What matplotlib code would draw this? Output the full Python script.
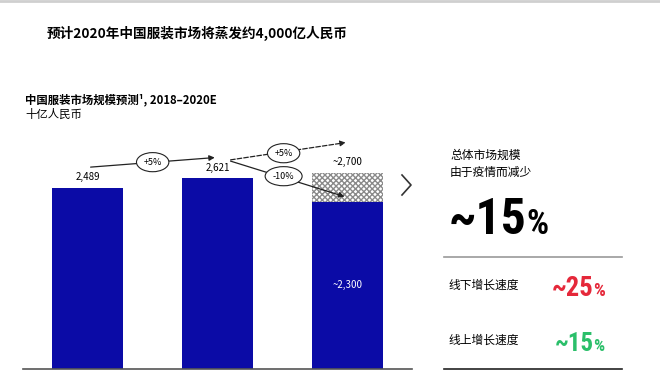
import matplotlib
matplotlib.use('Agg')
import matplotlib.pyplot as plt

plt.rcParams['font.family'] = ['Noto Sans CJK SC', 'DejaVu Sans']

# market size, bn RMB
years = ['2018', '2019', '2020E']
market = [2489, 2621, 2300]
market_no_covid = 2700
bar_labels = ['2,489', '2,621', '~2,300']
growth_hist = '+5%'
growth_plan = '+5%'
growth_covid = '-10%'
total_drop = '~15'
offline_growth = '~25'
online_growth = '~15'

blue = '#0B0BA6'
red = '#E5283A'
green = '#2BBF6A'

W, H = 660, 374
fig = plt.figure(figsize=(W / 100, H / 100), dpi=100)


def fx(px):
    return px / W


def fy(py):
    return 1 - py / H


# top thin border
fig.add_artist(plt.Line2D([0, 1], [fy(1), fy(1)], color='#cfcfcf', lw=2))

fig.text(fx(47), fy(33), '预计2020年中国服装市场将蒸发约4,000亿人民币',
         fontsize=9.8, fontweight='bold', va='center', ha='left')
fig.text(fx(25), fy(100), '中国服装市场规模预测¹, 2018–2020E',
         fontsize=8.2, fontweight='bold', va='center', ha='left')
fig.text(fx(25), fy(114), '十亿人民币', fontsize=8.2, va='center', ha='left')

ax = fig.add_axes([fx(23), fy(369), fx(412) - fx(23), (369 - 100) / H])
x = list(range(len(years)))
ax.bar(x, market, width=0.55, color=blue, zorder=2)
ax.bar(x[2], market_no_covid - market[2], bottom=market[2], width=0.55,
       color='white', edgecolor='#8a8a8a', hatch='xxxxxx', lw=0, zorder=1)
ax.set_xlim(-0.5, 2.5)
ax.set_ylim(0, 3700)
for s in ['top', 'right', 'left']:
    ax.spines[s].set_visible(False)
ax.spines['bottom'].set_color('#555555')
ax.spines['bottom'].set_linewidth(1.2)
ax.set_xticks([])
ax.set_yticks([])

for i in range(2):
    ax.text(x[i], market[i] + 80, bar_labels[i], ha='center', va='bottom', fontsize=7)
ax.text(x[2], market_no_covid + 80, '~2,700', ha='center', va='bottom', fontsize=7)
ax.text(x[2], 1150, bar_labels[2], ha='center', va='center', fontsize=7, color='white')

# growth arrows
arrow = dict(arrowstyle='-|>', color='#222222', lw=0.9, mutation_scale=8)
ax.annotate('', xy=(x[1], market[1] + 290), xytext=(x[0], market[0] + 285),
            arrowprops=arrow, annotation_clip=False)
ax.annotate('', xy=(x[2] + 0.01, market_no_covid + 420),
            xytext=(x[1] + 0.08, market[1] + 250),
            arrowprops=dict(arrow, linestyle='--'), annotation_clip=False)
ax.annotate('', xy=(x[2], market[2] + 60), xytext=(x[1] + 0.08, market[1] + 250),
            arrowprops=arrow, annotation_clip=False)

ell = dict(boxstyle='ellipse,pad=0.25', fc='white', ec='#222222', lw=0.8)
ax.text(0.5, 2845, growth_hist, ha='center', va='center', fontsize=6.5, bbox=ell)
ax.text(1.51, 2968, growth_plan, ha='center', va='center', fontsize=6.5, bbox=ell)
ax.text(1.51, 2652, growth_covid, ha='center', va='center', fontsize=6.5, bbox=ell)

# chevron
fig.add_artist(plt.Line2D([fx(402), fx(411), fx(402)], [fy(175), fy(185), fy(195)],
                          color='#333333', lw=1.2))

# right panel
fig.text(fx(450), fy(155), '总体市场规模', fontsize=8.5, va='center', ha='left')
fig.text(fx(450), fy(172), '由于疫情而减少', fontsize=8.5, va='center', ha='left')

narrow = ['Roboto Condensed', 'Open Sans Condensed', 'Liberation Sans Narrow', 'Roboto', 'DejaVu Sans']
renderer = fig.canvas.get_renderer()


def big_pct(px, py, val, width_px, color):
    # size the number so its width matches the reference
    t = fig.text(fx(px), fy(py), val, fontsize=20, fontweight='black',
                 family=narrow, color=color, va='baseline', ha='left')
    w = t.get_window_extent(renderer=renderer).width
    size = 20 * width_px / w
    t.set_fontsize(size)
    bb = t.get_window_extent(renderer=renderer)
    fig.text(bb.x1 / W - 0.001, fy(py), '%', fontsize=size * 0.7, fontweight='black',
             family=narrow, color=color, va='baseline', ha='left')


big_pct(449, 234, total_drop, 78, 'black')

fig.add_artist(plt.Line2D([fx(444), fx(622)], [fy(257), fy(257)], color='#999999', lw=1.2))
fig.text(fx(448), fy(285), '线下增长速度', fontsize=8.5, va='center', ha='left')
big_pct(552, 296, offline_growth, 42, red)
fig.text(fx(448), fy(340), '线上增长速度', fontsize=8.5, va='center', ha='left')
big_pct(555, 351, online_growth, 39, green)
fig.add_artist(plt.Line2D([fx(444), fx(622)], [fy(369), fy(369)], color='#222222', lw=1.2))

fig.savefig('out.png', dpi=100)
